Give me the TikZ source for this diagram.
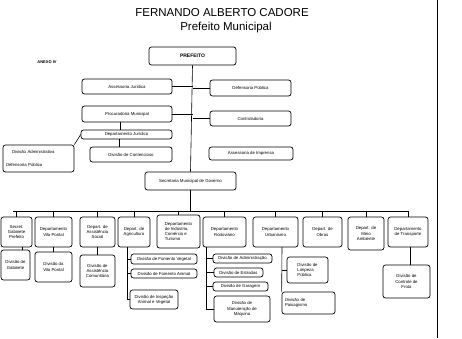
\documentclass[tikz,border=0pt]{standalone}
\usepackage{fontspec}
\setmainfont{Liberation Sans}
\usepackage{tikz}
\usetikzlibrary{positioning}
\newcommand{\boxfont}{\fontsize{4.3}{5.2}\selectfont}
\tikzset{
    orgbox/.style={draw, rounded corners=2.5pt, line width=0.7pt, inner sep=0pt, align=center, font=\boxfont},
    link/.style={line width=0.6pt},
    titletext/.style={font=\fontsize{11.5}{13}\selectfont}
}
\begin{document}
\begin{tikzpicture}[x=1pt, y=-1pt]
    \useasboundingbox (0,0) rectangle (462,338);
    \node[titletext] (nome) at (222,13) {FERNANDO ALBERTO CADORE};
    \node[titletext] (cargo) at (226,28) {Prefeito Municipal};
    \node[font=\fontsize{4}{5}\selectfont\bfseries] (anexo) at (47,62) {ANEXO IV};
    \coordinate (margemtop) at (437,0);
    \coordinate (margembot) at (437,338);
    \draw[line width=1pt] (margemtop) -- (margembot);

    \node[orgbox, minimum width=87, minimum height=18, font=\fontsize{5}{6}\selectfont\bfseries] (prefeito) at (192.5,56) {PREFEITO};
    \node[orgbox, minimum width=90, minimum height=15] (assjur) at (127,86.5) {Assessoria Jurídica};
    \node[orgbox, minimum width=81, minimum height=16] (defpub) at (250.5,88) {Defensoria Pública};
    \node[orgbox, minimum width=90, minimum height=16] (procmun) at (127,114) {Procuradoria Municipal};
    \node[orgbox, minimum width=81, minimum height=15] (contr) at (250.5,118.5) {Controladoria};
    \node[orgbox, minimum width=91, minimum height=9] (depjur) at (126.5,134.5) {Departamento Jurídico};
    \node[orgbox, minimum width=82, minimum height=15] (divcont) at (131,154.5) {Divisão de Contencioso};
    \node[orgbox, minimum width=71, minimum height=27, align=left, text width=65] (divadm) at (38.5,158.5) {\hspace*{6pt}Divisão Administrativa\\[7pt]Defensoria Pública};
    \node[orgbox, minimum width=84, minimum height=13] (assimp) at (251,153.5) {Assessoria de Imprensa};
    \node[orgbox, minimum width=91, minimum height=18] (secgov) at (190.5,181) {Secretaria Municipal de Governo};

    \draw[link] (prefeito.south) -- (secgov.north);
    \draw[link] (assjur.east) -- (assjur.east -| prefeito.south);
    \draw[link] (defpub.west) -- (defpub.west -| prefeito.south);
    \draw[link] (procmun.east) -- (procmun.east -| prefeito.south);
    \draw[link] (contr.west) -- (contr.west -| prefeito.south);
    \draw[link] ([xshift=-7]procmun.south) -- ([xshift=-7]procmun.south |- depjur.north);
    \draw[link] ([xshift=-7]depjur.south) -- ([xshift=-7]depjur.south |- divcont.north);
    \draw[link] (depjur.west) -- (divadm.north east);

    \node[orgbox, minimum width=31, minimum height=30] (sgab) at (16.5,232) {Secret.\\Gabinete\\Prefeito};
    \node[orgbox, minimum width=37, minimum height=30] (dvila) at (53.5,232) {Departamento\\Vila Pontal};
    \node[orgbox, minimum width=35, minimum height=30] (dassist) at (97.5,232) {Depart. de\\Assistência\\Social};
    \node[orgbox, minimum width=32, minimum height=30] (dagri) at (134,232) {Depart. de\\Agricultura};
    \node[orgbox, minimum width=43, minimum height=33, align=left] (dind) at (178.5,231.5) {Departamento\\de Indústria,\\Comércio e\\Turismo};
    \node[orgbox, minimum width=43, minimum height=30] (drod) at (224.5,232) {Departamento\\Rodoviário};
    \node[orgbox, minimum width=45, minimum height=30] (durb) at (275.5,232) {Departamento\\Urbanismo};
    \node[orgbox, minimum width=39, minimum height=30] (dobras) at (322.5,232) {Depart. de\\Obras};
    \node[orgbox, minimum width=36, minimum height=33] (dmeio) at (366,233.5) {Depart. de\\Meio\\Ambiente};
    \node[orgbox, minimum width=40, minimum height=30] (dtransp) at (408,232) {Departamento\\de Transporte};

    \coordinate (busL) at (13,211);
    \coordinate (busR) at (408,211);
    \draw[link] (secgov.south) -- (secgov.south |- busL);
    \draw[link] (busL) -- (busR);
    \foreach \d in {sgab,dvila,dassist,dagri,dind,drod,durb,dobras,dmeio,dtransp}
        \draw[link] (\d.north) -- (\d.north |- busL);

    \node[orgbox, minimum width=29, minimum height=30] (divgab) at (15.5,265) {Divisão de\\Gabinete};
    \node[orgbox, minimum width=37, minimum height=30] (divvila) at (53.5,267) {Divisão da\\Vila Pontal};
    \node[orgbox, minimum width=35, minimum height=32] (divassist) at (97.5,271) {Divisão de\\Assistência\\Comunitária};
    \node[orgbox, minimum width=66, minimum height=10] (fveg) at (164,259) {Divisão de Fomento Vegetal};
    \node[orgbox, minimum width=66, minimum height=9] (fani) at (164,273.5) {Divisão de Fomento Animal};
    \node[orgbox, minimum width=48, minimum height=19] (insp) at (154,299.5) {Divisão de Inspeção\\Animal e Vegetal};
    \node[orgbox, minimum width=59, minimum height=9] (radm) at (242.5,258.5) {Divisão de Administração};
    \node[orgbox, minimum width=49, minimum height=9] (restr) at (238.5,272.5) {Divisão de Estradas};
    \node[orgbox, minimum width=55, minimum height=9] (rgar) at (240.5,286.5) {Divisão de Garagem};
    \node[orgbox, minimum width=56, minimum height=26] (rman) at (242,309) {Divisão de\\Manutenção de\\Máquina};
    \node[orgbox, minimum width=41, minimum height=26, align=left] (ulimp) at (307.5,270) {Divisão de\\Limpeza\\Pública};
    \node[orgbox, minimum width=53, minimum height=22, align=left, text width=47] (upais) at (308.5,303) {Divisão de\\Paisagismo};
    \node[orgbox, minimum width=47, minimum height=33] (tfrota) at (406.5,281.5) {Divisão de\\Controle de\\Frota};

    \draw[link] ([xshift=6]sgab.south) -- ([xshift=6]sgab.south |- divgab.north);
    \draw[link] (dvila.south) -- (divvila.north);
    \draw[link] (dassist.south) -- (divassist.north);
    \coordinate (agrib) at (127,247);
    \draw[link] (agrib) |- (insp.west);
    \draw[link] (agrib |- fveg.west) -- (fveg.west);
    \draw[link] (agrib |- fani.west) -- (fani.west);
    \coordinate (rodb) at (206,247);
    \draw[link] (rodb) |- (rman.west);
    \foreach \r in {radm,restr,rgar}
        \draw[link] (rodb |- \r.west) -- (\r.west);
    \coordinate (urbb) at (282,247);
    \draw[link] (urbb) -- (upais.north west);
    \draw[link] (urbb |- ulimp.west) -- (ulimp.west);
    \draw[link] ([xshift=2]dtransp.south) -- ([xshift=2]dtransp.south |- tfrota.north);
\end{tikzpicture}
\end{document}
